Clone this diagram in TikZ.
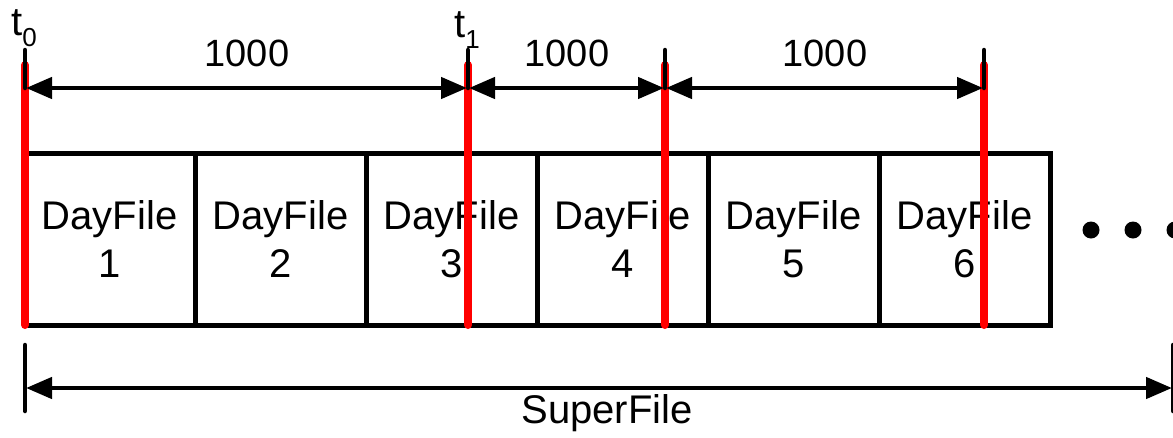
\documentclass[tikz,border=0pt]{standalone}
\usepackage{fontspec}
\setmainfont{Liberation Sans}
\usetikzlibrary{arrows.meta}
\tikzset{
  dayfile/.style={draw, line width=5pt, minimum width=171pt, minimum height=172pt,
    inner sep=0pt, align=center, font=\fontsize{40}{48}\selectfont},
  timemark/.style={draw=red, line width=8pt, line cap=round},
  tickline/.style={draw=black, line width=4.5pt, line cap=round},
  span/.style={draw=black, line width=4.5pt, {Triangle[length=26pt,width=21pt]}-{Triangle[length=26pt,width=21pt]}, shorten <=1pt, shorten >=1pt},
  lbl/.style={font=\fontsize{38}{44}\selectfont, inner sep=0pt},
  tlabel/.style={font=\fontsize{40}{44}\selectfont, inner sep=0pt},
  dot/.style={fill=black, circle, minimum size=17pt, inner sep=0pt},
}
\newcommand{\tsub}[1]{t\raisebox{-0.28em}{\fontsize{26}{26}\selectfont #1}}
\begin{document}
\begin{tikzpicture}[x=1pt, y=-1pt]
\useasboundingbox (0,0) rectangle (1173,437);

% day files
\foreach \i in {1,...,6} {
  \node[dayfile] (d\i) at ({24+171*(\i-0.5)}, 239) {DayFile\\\i};
}

% continuation dots
\node[dot] (e1) at (1091,230) {};
\node[dot] (e2) at (1133,230) {};
\node[dot] (e3) at (1175,230) {};

% time marks: red bars with black ticks on top
\foreach \n/\x in {0/25, 1/468, 2/665, 3/984} {
  \coordinate (r\n top) at (\x,65);
  \coordinate (r\n bot) at (\x,325);
  \coordinate (k\n top) at (\x,50);
  \coordinate (k\n) at (\x,88);
  \draw[timemark] (r\n top) -- (r\n bot);
  \draw[tickline] (k\n top) -- (k\n);
}

% intervals between marks
\draw[span] (k0) -- (k1);
\draw[span] (k1) -- (k2);
\draw[span] (k2) -- (k3);
\node[lbl] (l1) at (247,53) {1000};
\node[lbl] (l2) at (567,53) {1000};
\node[lbl] (l3) at (825,53) {1000};

% time labels
\node[tlabel, anchor=base west] (t0) at (11,35) {\tsub{0}};
\node[tlabel, anchor=base west] (t1) at (454,37) {\tsub{1}};

% super file extent
\coordinate (s0 top) at (25,345);
\coordinate (s0 bot) at (25,411);
\coordinate (s0) at (25,388);
\coordinate (s1 top) at (1173,345);
\coordinate (s1 bot) at (1173,411);
\coordinate (s1) at (1173,388);
\draw[tickline] (s0 top) -- (s0 bot);
\draw[tickline] (s1 top) -- (s1 bot);
\draw[span] (s0) -- (s1);
\node[font=\fontsize{40}{44}\selectfont, inner sep=0pt] (sf) at (607,413) {SuperFile};
\end{tikzpicture}
\end{document}
